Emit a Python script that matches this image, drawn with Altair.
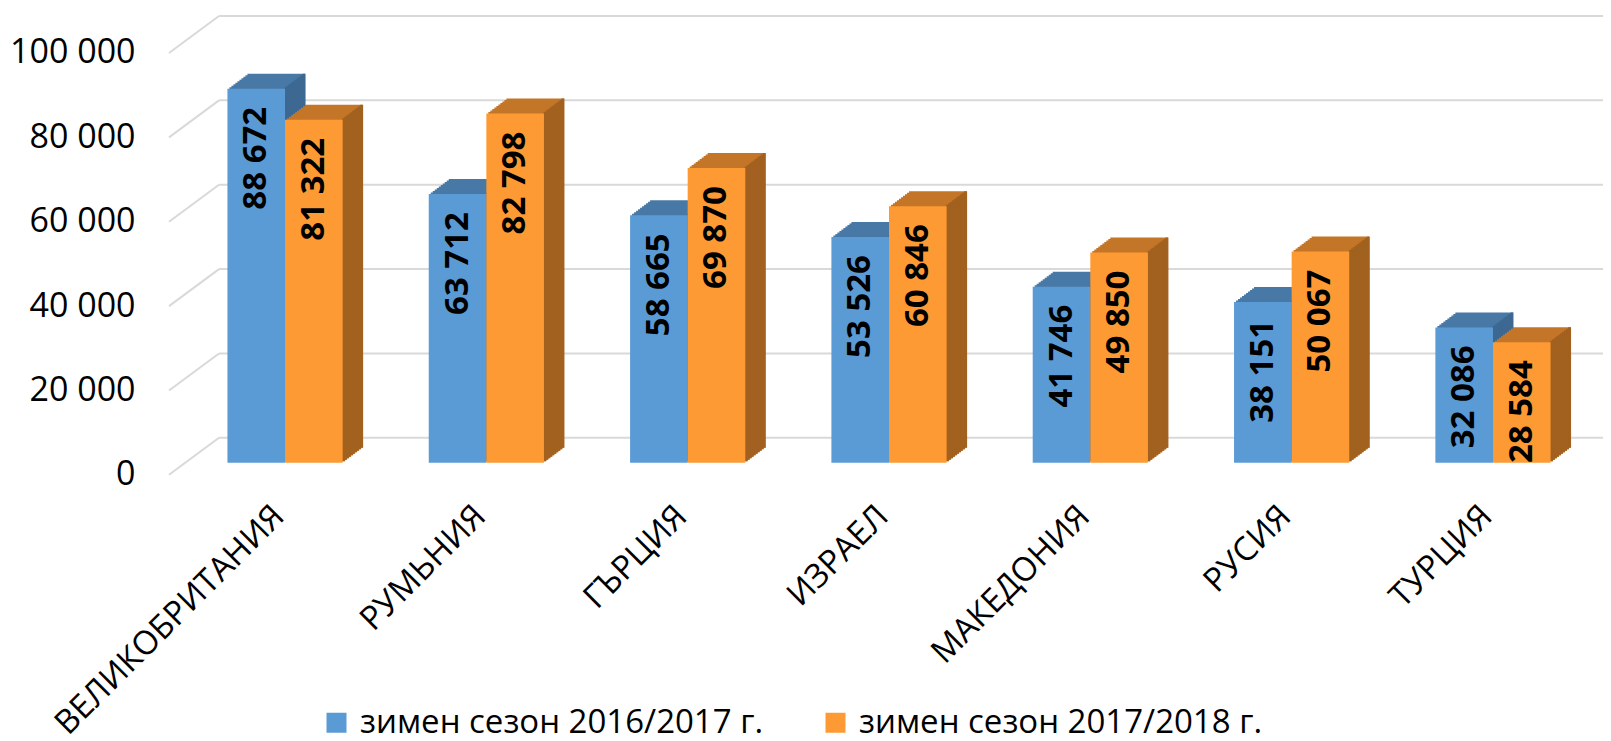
import altair as alt
import pandas as pd

countries = ["ВЕЛИКОБРИТАНИЯ", "РУМЬНИЯ", "ГЪРЦИЯ", "ИЗРАЕЛ", "МАКЕДОНИЯ", "РУСИЯ", "ТУРЦИЯ"]
season_2016_2017 = [88672, 63712, 58665, 53526, 41746, 38151, 32086]
season_2017_2018 = [81322, 82798, 69870, 60846, 49850, 50067, 28584]
series_names = ["зимен сезон 2016/2017 г.", "зимен сезон 2017/2018 г."]
y_ticks = [0, 20000, 40000, 60000, 80000, 100000]

front_colors = ["#5B9BD5", "#FE9A33"]
top_colors = ["#4878A6", "#C47628"]
side_colors = ["#3D6891", "#A2611F"]

rows = []
for name, vals in zip(series_names, [season_2016_2017, season_2017_2018]):
    for c, v in zip(countries, vals):
        rows.append({"country": c, "series": name, "value": v,
                     "label": f"{v:,}".replace(",", " ")})
df = pd.DataFrame(rows)
ticks_df = pd.DataFrame({"tick": y_ticks})

W, H = 1340, 421.8
BW = 57.6          # width of one bar front face
DX, DY = 20, 15    # depth of the 3D extrusion
N = 10             # steps to draw the extrusion
FONT = "Open Sans"

xscale = alt.Scale(domain=countries, paddingInner=0.428, paddingOuter=0.042)
yscale = alt.Scale(domain=[0, 100000], nice=False, zero=True)

X = alt.X("country:N", sort=countries, scale=xscale, title=None,
          axis=alt.Axis(labelAngle=-45, labelAlign="right", labelBaseline="middle",
                        labelPadding=48, labelOffset=-6, labelFontSize=33, labelFont=FONT,
                        labelColor="#000000", domain=False, ticks=False, grid=False,
                        labelLimit=600))
yaxis = alt.Axis(values=y_ticks, labelExpr="replace(format(datum.value, ','), ',', ' ')",
                 labelOffset=12, labelPadding=84, labelFontSize=34, labelFont=FONT,
                 labelColor="#000000", domain=False, ticks=False, grid=False)
Y = alt.Y("value:Q", scale=yscale, title=None, axis=yaxis)
YT = alt.Y("tick:Q", scale=yscale, title=None, axis=yaxis)

layers = []
# floor/wall grid lines (diagonal part + horizontal part)
layers.append(alt.Chart(ticks_df).mark_rule(color="#D9D9D9", strokeWidth=2, yOffset=12, y2Offset=-25).encode(
    x=alt.value(-50), x2=alt.value(0), y=YT, y2=alt.Y2("tick:Q")))
layers.append(alt.Chart(ticks_df).mark_rule(color="#D9D9D9", strokeWidth=2, yOffset=-25).encode(
    x=alt.value(0), x2=alt.value(1392), y=YT))

color_enc = alt.Color("series:N", scale=alt.Scale(domain=series_names, range=front_colors),
                      legend=alt.Legend(title=None, orient="none", legendX=101, legendY=665,
                                        direction="horizontal", columns=2, symbolType="square",
                                        symbolSize=400, symbolStrokeWidth=0, labelFontSize=33,
                                        labelFont=FONT, labelColor="#000000", labelOffset=7,
                                        columnPadding=55, labelLimit=800))

for i, name in enumerate(series_names):
    off = -BW / 2 if i == 0 else BW / 2
    base = alt.Chart(df).transform_filter(alt.datum.series == name)
    for k in range(N, 0, -1):
        layers.append(base.mark_bar(width=BW, xOffset=off + DX * k / N,
                                    yOffset=-DY * k / N, y2Offset=-DY * k / N,
                                    color=top_colors[i]).encode(x=X, y=Y, y2=alt.datum(0)))
    for k in range(1, N + 1):
        layers.append(base.mark_bar(width=DX / N + 1, xOffset=off + BW / 2 + DX * (k - 0.5) / N,
                                    yOffset=-DY * k / N, y2Offset=-DY * k / N,
                                    color=side_colors[i]).encode(x=X, y=Y, y2=alt.datum(0)))
    layers.append(base.mark_bar(width=BW, xOffset=off).encode(x=X, y=Y, y2=alt.datum(0), color=color_enc))

for i, name in enumerate(series_names):
    off = -BW / 2 if i == 0 else BW / 2
    layers.append(alt.Chart(df).transform_filter(alt.datum.series == name).mark_text(
        angle=270, align="right", baseline="middle", font=FONT, fontWeight="bold",
        fontSize=33, color="#000000", xOffset=off, yOffset=18).encode(x=X, y=Y, text="label:N"))

chart = alt.layer(*layers).properties(
    width=W, height=H,
    padding={"left": 211, "top": 33, "right": 44, "bottom": 278},
    autosize=alt.AutoSizeParams(type="none"),
).configure(font=FONT, background="#FFFFFF").configure_view(stroke=None)

chart.save("out.html", embed_options={"renderer": "svg", "actions": False})
